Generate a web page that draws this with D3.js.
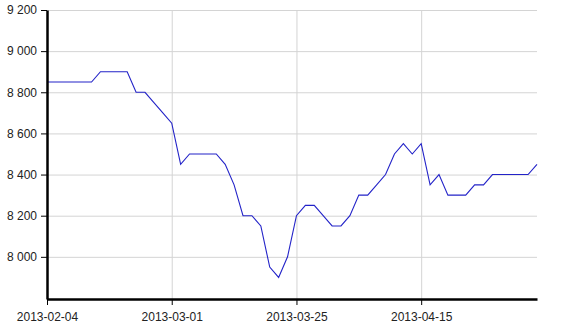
<!DOCTYPE html>
<html lang="en">
<head>
    <meta charset="UTF-8">
    <title>Price line</title>
    <script src="https://cdn.jsdelivr.net/npm/d3@7"></script>
    <style>
        body { margin: 0; background: #fff; }
        svg text { font-family: "Liberation Sans", Arial, sans-serif; font-size: 12px; fill: #222; }
    </style>
</head>
<body>
<script>
    // one value per point, points evenly spaced
    const values = [
        8850, 8850, 8850, 8850, 8850, 8850, 8900, 8900, 8900, 8900,
        8800, 8800, 8750, 8700, 8650, 8450, 8500, 8500, 8500, 8500,
        8450, 8350, 8200, 8200, 8150, 7950, 7900, 8000, 8200, 8250,
        8250, 8200, 8150, 8150, 8200, 8300, 8300, 8350, 8400, 8500,
        8550, 8500, 8550, 8350, 8400, 8300, 8300, 8300, 8350, 8350,
        8400, 8400, 8400, 8400, 8400, 8450
    ];
    const xTickIndex = [0, 14, 28, 42];
    const xTickLabels = ['2013-02-04', '2013-03-01', '2013-03-25', '2013-04-15'];
    const yTicks = [8000, 8200, 8400, 8600, 8800, 9000, 9200];

    const margin = { top: 10, right: 34, bottom: 30, left: 47 };
    const width = 571 - margin.left - margin.right;
    const height = 329 - margin.top - margin.bottom;

    const svg = d3.select('body')
        .append('svg')
        .attr('width', 571)
        .attr('height', 329)
        .append('g')
        .attr('transform', `translate(${margin.left},${margin.top})`);

    const xScale = d3.scaleLinear()
        .domain([0, values.length - 1])
        .range([0, width]);

    const yScale = d3.scaleLinear()
        .domain([7795, 9200])
        .range([height, 0]);

    // gridlines
    svg.append('g')
        .attr('class', 'grid')
        .call(d3.axisLeft(yScale).tickValues(yTicks).tickSize(-width).tickFormat(''));

    svg.append('g')
        .attr('class', 'grid')
        .attr('transform', `translate(0, ${height})`)
        .call(d3.axisBottom(xScale).tickValues(xTickIndex).tickSize(-height).tickFormat(''));

    svg.selectAll('.grid .domain').remove();
    svg.selectAll('.grid line').style('stroke', '#d4d4d4');

    // line
    const line = d3.line()
        .x((d, i) => xScale(i))
        .y(d => yScale(d));

    svg.append('path')
        .datum(values)
        .attr('fill', 'none')
        .attr('stroke', '#2323c8')
        .attr('stroke-width', 1.1)
        .attr('d', line);

    // axes
    const fmt = v => d3.format(',')(v).replace(',', ' ');

    const yAxis = svg.append('g')
        .call(d3.axisLeft(yScale).tickValues(yTicks).tickSize(6).tickPadding(4).tickSizeOuter(0).tickFormat(fmt));

    const xAxis = svg.append('g')
        .attr('transform', `translate(0, ${height})`)
        .call(d3.axisBottom(xScale).tickValues(xTickIndex).tickSize(6).tickPadding(7).tickSizeOuter(0)
            .tickFormat((d, i) => xTickLabels[i]));

    svg.selectAll('.domain').style('stroke', '#000').style('stroke-width', 2.5);
    yAxis.selectAll('.tick line').style('stroke', '#000');
    xAxis.selectAll('.tick line').style('stroke', '#000');
    svg.selectAll('.tick text').style('font-size', '12px').style('fill', '#222')
        .style('font-family', '"Liberation Sans", Arial, sans-serif');
</script>
</body>
</html>
